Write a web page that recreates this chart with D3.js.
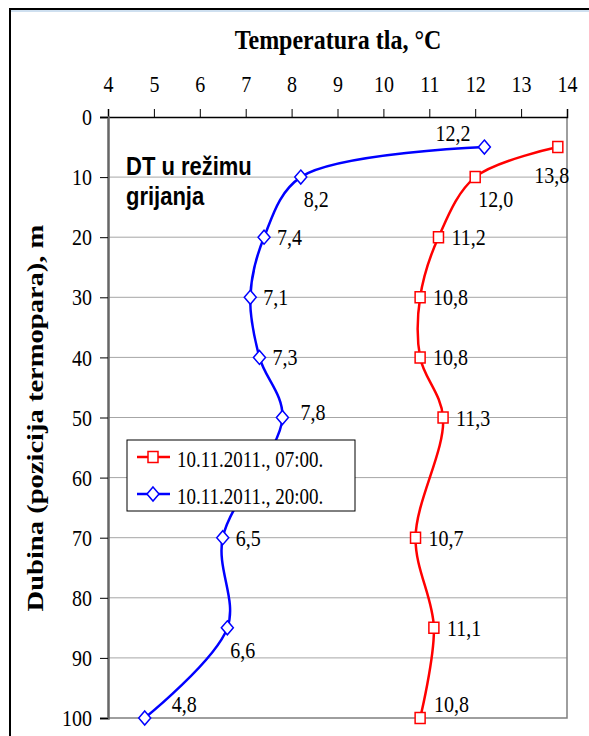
<!DOCTYPE html>
<html>
<head>
<meta charset="utf-8">
<script src="https://cdn.jsdelivr.net/npm/d3@7"></script>
<style>
  body { margin: 0; background: #fff; }
  svg { display: block; }
</style>
</head>
<body>
<svg width="589" height="736"></svg>
<script>
// depths (m) of the thermocouples
var depths = [5, 10, 20, 30, 40, 50, 70, 85, 100];
// soil temperature, 10.11.2011. 07:00.
var morning = [13.8, 12.0, 11.2, 10.8, 10.8, 11.3, 10.7, 11.1, 10.8];
// soil temperature, 10.11.2011. 20:00.
var evening = [12.2, 8.2, 7.4, 7.1, 7.3, 7.8, 6.5, 6.6, 4.8];
var xTicks = [4, 5, 6, 7, 8, 9, 10, 11, 12, 13, 14];
var yTicks = [0, 10, 20, 30, 40, 50, 60, 70, 80, 90, 100];
var seriesNames = ["10.11.2011., 07:00.", "10.11.2011., 20:00."];
// where each value label sits relative to its marker
var morningLabelSide = ["below", "belowRight", "right", "right", "right", "right", "right", "right", "aboveRight"];
var eveningLabelSide = ["aboveLeft", "belowRight", "right", "right", "right", "rightHigh", "right", "belowRight", "aboveFar"];

var svg = d3.select("svg");
var serif = "'Liberation Serif', 'Times New Roman', serif";
var sans = "'Liberation Sans', Arial, sans-serif";
var S = 1.2; // the original picture is stretched vertically

// text placed at (x,y) and stretched vertically
function stext(parent, x, y, str) {
  return parent.append("text")
    .attr("transform", "translate(" + x + "," + y + ") scale(1," + S + ")")
    .text(str);
}

// outer frame
svg.append("rect").attr("x", 10).attr("y", 9).attr("width", 600).attr("height", 760)
  .attr("fill", "none").attr("stroke", "#000").attr("stroke-width", 2);
svg.append("line").attr("x1", 11).attr("x2", 589).attr("y1", 11).attr("y2", 11)
  .attr("stroke", "#cfe0f0").attr("stroke-width", 2);

var x = d3.scaleLinear().domain([4, 14]).range([108, 567]);
var y = d3.scaleLinear().domain([0, 100]).range([117, 718]);

// gridlines
svg.append("g").selectAll("line").data(yTicks.slice(1, -1)).enter().append("line")
  .attr("x1", x(4)).attr("x2", x(14))
  .attr("y1", function(d) { return y(d); }).attr("y2", function(d) { return y(d); })
  .attr("stroke", "#a6a6a6").attr("stroke-width", 1);

// plot border (right and bottom)
svg.append("path")
  .attr("d", "M" + x(14) + "," + y(0) + "V" + y(100) + "H" + x(4))
  .attr("fill", "none").attr("stroke", "#7f7f7f").attr("stroke-width", 1.5);

// top axis
var xAxis = svg.append("g").attr("transform", "translate(0," + y(0) + ")")
  .call(d3.axisTop(x).tickValues(xTicks).tickSize(8).tickPadding(17).tickFormat(d3.format("d")));
xAxis.select(".domain").attr("stroke", "#000").attr("stroke-width", 1.5);
xAxis.selectAll(".tick line").attr("stroke", "#000");
xAxis.selectAll("text").each(function() {
  var t = d3.select(this), ty = +t.attr("y");
  t.attr("y", null).attr("transform", "translate(0," + ty + ") scale(1," + S + ")");
}).attr("font-family", serif).attr("font-size", 20).attr("fill", "#000");

// left axis
var yAxis = svg.append("g").attr("transform", "translate(" + x(4) + ",0)")
  .call(d3.axisLeft(y).tickValues(yTicks).tickSize(8).tickPadding(8));
yAxis.select(".domain").attr("stroke", "#666").attr("stroke-width", 2.5);
yAxis.selectAll(".tick line").attr("stroke", "#000");
yAxis.selectAll("text").each(function() {
  var t = d3.select(this), tx = +t.attr("x");
  t.attr("x", null).attr("transform", "translate(" + tx + ",0) scale(1," + S + ")");
}).attr("font-family", serif).attr("font-size", 20).attr("fill", "#000");

// axis titles
svg.append("text").attr("transform", "translate(338,49) scale(1,1.15)").attr("text-anchor", "middle")
  .attr("font-family", serif).attr("font-weight", "bold").attr("font-size", 24)
  .text("Temperatura tla, °C");
svg.append("text").attr("transform", "translate(43,418) rotate(-90) scale(1.19,1)").attr("text-anchor", "middle")
  .attr("font-family", serif).attr("font-weight", "bold").attr("font-size", 24)
  .text("Dubina (pozicija termopara), m");

// annotation
stext(svg, 126, 175, "DT u režimu").attr("font-family", sans).attr("font-weight", "bold").attr("font-size", 22);
stext(svg, 126, 205, "grijanja").attr("font-family", sans).attr("font-weight", "bold").attr("font-size", 22);

var line = d3.line()
  .x(function(d) { return x(d[1]); })
  .y(function(d) { return y(d[0]); })
  .curve(d3.curveCatmullRom.alpha(0.5));

var off = {
  right: [13, 8, "start"], rightHigh: [18, 2, "start"],
  below: [-6, 36, "middle"], belowRight: [3, 30, "start"],
  aboveRight: [14, -6, "start"], aboveFar: [27, -6, "start"], aboveLeft: [-14, -6, "end"]
};

function drawSeries(values, color, shape, sides) {
  var pts = depths.map(function(d, i) { return [d, values[i]]; });
  var g = svg.append("g");
  g.append("path").datum(pts).attr("d", line)
    .attr("fill", "none").attr("stroke", color).attr("stroke-width", 2.5);
  g.selectAll(".m").data(pts).enter().append("path")
    .attr("transform", function(d) { return "translate(" + x(d[1]) + "," + y(d[0]) + ")"; })
    .attr("d", shape)
    .attr("fill", "#fff").attr("stroke", color).attr("stroke-width", 1.5);
  pts.forEach(function(d, i) {
    var o = off[sides[i]];
    stext(g, x(d[1]) + o[0], y(d[0]) + o[1], d3.format(".1f")(d[1]).replace(".", ","))
      .attr("text-anchor", o[2])
      .attr("font-family", serif).attr("font-size", 20).attr("fill", "#000");
  });
}

var square = "M-5,-5.5H5V5.5H-5Z";
var diamond = "M0,-7L6,0L0,7L-6,0Z";
drawSeries(morning, "#ff0000", square, morningLabelSide);
drawSeries(evening, "#0000ff", diamond, eveningLabelSide);

// legend
var lg = svg.append("g").attr("transform", "translate(127,440)");
lg.append("rect").attr("width", 228).attr("height", 71)
  .attr("fill", "#fff").attr("stroke", "#000").attr("stroke-width", 1);
[["#ff0000", square], ["#0000ff", diamond]].forEach(function(s, i) {
  var yy = 17 + i * 37;
  lg.append("line").attr("x1", 10).attr("x2", 43).attr("y1", yy).attr("y2", yy)
    .attr("stroke", s[0]).attr("stroke-width", 2.5);
  lg.append("path").attr("transform", "translate(26," + yy + ")").attr("d", s[1])
    .attr("fill", "#fff").attr("stroke", s[0]).attr("stroke-width", 1.5);
  stext(lg, 50, yy + 10, seriesNames[i])
    .attr("font-family", serif).attr("font-size", 19).attr("fill", "#000");
});
</script>
</body>
</html>
